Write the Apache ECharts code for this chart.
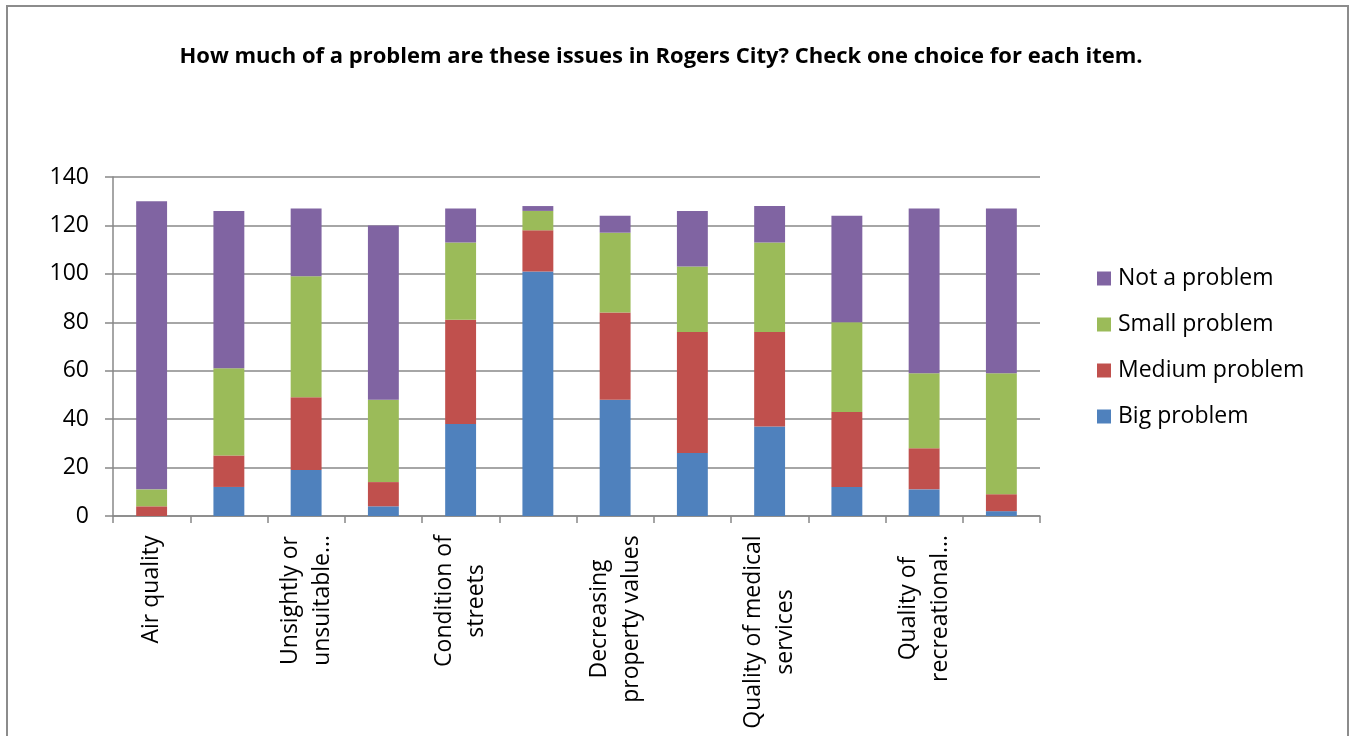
<!DOCTYPE html>
<html>
<head>
<meta charset="utf-8">
<title>Rogers City issues</title>
<script src="https://cdn.jsdelivr.net/npm/echarts@6/dist/echarts.min.js"></script>
<style>
html, body { margin: 0; padding: 0; background: #fff; overflow: hidden; }
#frame { position: absolute; left: 6px; top: 5px; width: 1343px; height: 800px; border: 2px solid #8c8c8c; box-sizing: border-box; }
#main { position: absolute; left: 0; top: 0; width: 1352px; height: 736px; }
</style>
</head>
<body>
<div id="frame"></div>
<div id="main"></div>
<script>
// categories (only every second one gets a label, like the original)
var categories = [
    'Air quality', 'Noise', 'Unsightly or unsuitable buildings', 'Traffic safety',
    'Condition of streets', 'Lack of jobs', 'Decreasing property values', 'Quality of schools',
    'Quality of medical services', 'Quality of housing', 'Quality of recreational facilities', 'Crime'
];
var tickText = [
    'Air quality', '', 'Unsightly or\nunsuitable…', '',
    'Condition of\nstreets', '', 'Decreasing\nproperty values', '',
    'Quality of medical\nservices', '', 'Quality of\nrecreational…', ''
];
var bigProblem    = [0, 12, 19, 4, 38, 101, 48, 26, 37, 12, 11, 2];
var mediumProblem = [4, 13, 30, 10, 43, 17, 36, 50, 39, 31, 17, 7];
var smallProblem  = [7, 36, 50, 34, 32, 8, 33, 27, 37, 37, 31, 50];
var notAProblem   = [119, 65, 28, 72, 14, 2, 7, 23, 15, 44, 68, 68];
var yTicks = [0, 20, 40, 60, 80, 100, 120, 140];

var FONT = '"Open Sans", sans-serif';
var chart = echarts.init(document.getElementById('main'));

// measure label lines so that two-line labels are centred on each other
var ctx = document.createElement('canvas').getContext('2d');
ctx.font = '23px "Open Sans"';
var rich = {};
tickText.forEach(function (t, i) {
    var w = 0;
    t.split('\n').forEach(function (l) { w = Math.max(w, ctx.measureText(l).width); });
    rich['c' + i] = { width: Math.ceil(w) + 2, align: 'center', fontSize: 23, fontFamily: FONT, color: '#000', lineHeight: 32 };
});

function mkSeries(name, data, color) {
    return {
        name: name,
        type: 'bar',
        stack: 'total',
        barWidth: '40%',
        data: data,
        itemStyle: { color: color }
    };
}

var option = {
    animation: false,
    backgroundColor: 'transparent',
    title: {
        text: 'How much of a problem are these issues in Rogers City? Check one choice for each item.',
        left: 656,
        textAlign: 'center',
        top: 41,
        textStyle: { fontFamily: FONT, fontWeight: 'bold', fontSize: 22, color: '#000' }
    },
    legend: {
        orient: 'vertical',
        left: 1092,
        top: 262,
        itemWidth: 14,
        itemHeight: 14,
        itemGap: 23,
        icon: 'rect',
        data: ['Not a problem', 'Small problem', 'Medium problem', 'Big problem'],
        textStyle: { fontFamily: FONT, fontSize: 23, color: '#000', padding: [0, 0, 0, 2] }
    },
    grid: {
        left: 113,
        right: 312,
        top: 177,
        bottom: 220
    },
    xAxis: {
        type: 'category',
        data: categories,
        axisLine: { lineStyle: { color: '#888', width: 1.5 } },
        axisTick: { show: true, interval: 0, length: 7, lineStyle: { color: '#888', width: 1.5 } },
        axisLabel: {
            interval: 1,
            rotate: 90,
            margin: 18,
            rich: rich,
            formatter: function (value, index) {
                return tickText[index].split('\n').map(function (l) {
                    return '{c' + index + '|' + l + '}';
                }).join('\n');
            }
        }
    },
    yAxis: {
        type: 'value',
        min: yTicks[0],
        max: yTicks[yTicks.length - 1],
        interval: 20,
        axisLine: { show: true, lineStyle: { color: '#888', width: 1.5 } },
        axisTick: { show: true, length: 8, lineStyle: { color: '#888', width: 1.5 } },
        axisLabel: { margin: 24, fontFamily: FONT, fontSize: 23, color: '#000' },
        splitLine: { lineStyle: { color: '#888', width: 1.5 } }
    },
    series: [
        mkSeries('Big problem', bigProblem, '#4F81BD'),
        mkSeries('Medium problem', mediumProblem, '#C0504D'),
        mkSeries('Small problem', smallProblem, '#9BBB59'),
        mkSeries('Not a problem', notAProblem, '#8064A2')
    ]
};
chart.setOption(option);
</script>
</body>
</html>
